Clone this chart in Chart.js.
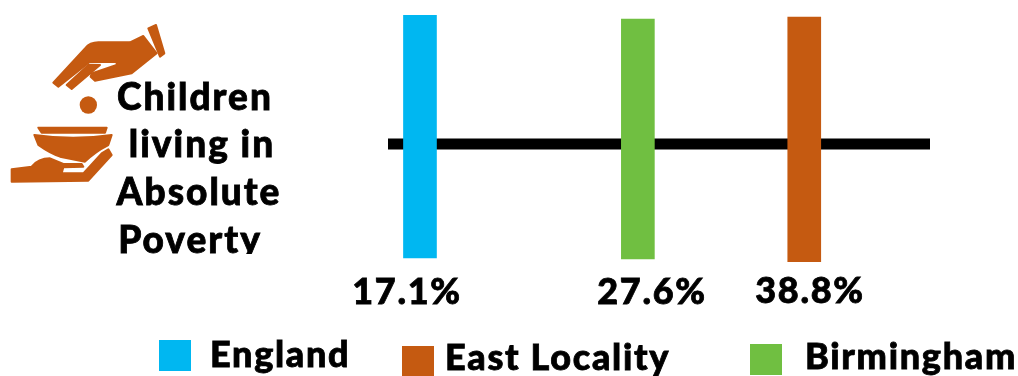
<!DOCTYPE html>
<html>
<head>
<meta charset="utf-8">
<script src="https://cdn.jsdelivr.net/npm/chart.js@4"></script>
<style>
  html, body { margin: 0; padding: 0; background: #fff; overflow: hidden; }
  #wrap { position: relative; width: 1018px; height: 376px; }
</style>
</head>
<body>
<div id="wrap"><canvas id="povertyChart"></canvas></div>
<script>
const categories = ['England', 'East Locality', 'Birmingham']
const percents = [17.1, 38.8, 27.6]
// where each bar sits along the black line (0-100), the picture does not space them to scale
const linePlaces = [5.9, 76.8, 46.1]
const barTops = [129, 127, 125]
const barBottoms = [-114, -118, -115]
const titleLines = ['Children', 'living in', 'Absolute', 'Poverty']

const colors = ['#00B7F1', '#C55A11', '#70BF41']
const textFont = '900 36px Lato, "Open Sans", sans-serif'
const titleFont = '900 37px Lato, "Open Sans", sans-serif'

// bits of text placed by hand, same as the original slide
const labelSpots = [[407, 304], [810, 303], [652, 304]]
const legendSpots = [[159, 340, 210, 367], [402, 346, 445, 370], [750, 344, 805, 369]]
const titleSpots = [[195, 110], [202, 157], [199, 205], [190, 253]]

function drawIcon(ctx) {
  ctx.save()
  ctx.fillStyle = colors[1]
  ctx.strokeStyle = colors[1]
  ctx.lineWidth = 6
  ctx.lineJoin = 'round'
  ctx.translate(0, 10)
  ctx.scale(1 / 3, 1 / 3)
  const cuff = 'M445 55 L468 45 L493 130 L480 140 Z'
  const hand = 'M160 218 L255 115 Q270 97 295 97 L390 97 L430 78 L470 130 L395 190 L285 212 L272 200 L275 190 L350 165 L350 155 L268 157 L175 230 Z'
  const finger = 'M200 225 L265 165 L300 165 L215 237 Z'
  const rim = 'M115 353 L320 353 L315 368 L125 368 Z'
  const bowl = 'M103 375 Q220 392 335 375 L325 405 Q285 425 255 455 L180 440 Q150 430 115 405 Z'
  const lowHand = 'M35 478 L95 470 Q115 445 150 445 L190 462 L245 462 L250 470 L190 472 L185 490 L250 490 L305 430 L325 418 L335 435 L265 512 L35 515 Z'
  ;[cuff, hand, finger, rim, bowl, lowHand].forEach(p => {
    const shape = new Path2D(p)
    ctx.fill(shape)
    ctx.stroke(shape)
  })
  ctx.beginPath()
  ctx.arc(265, 285, 26, 0, Math.PI * 2)
  ctx.fill()
  ctx.restore()
}

// fill plus a thin stroke, the original lettering is heavier than Lato bold
function heavyText(ctx, t, x, y) {
  ctx.fillText(t, x, y)
  ctx.strokeText(t, x, y)
}

const slideText = {
  id: 'slideText',
  afterDraw(chart) {
    const ctx = chart.ctx
    drawIcon(ctx)
    ctx.save()
    ctx.fillStyle = '#000'
    ctx.strokeStyle = '#000'
    ctx.lineWidth = 0.8
    ctx.textBaseline = 'alphabetic'

    // title, last line is cut off at the bottom in the original
    ctx.font = titleFont
    ctx.letterSpacing = '2px'
    ctx.textAlign = 'center'
    ctx.save()
    ctx.beginPath()
    ctx.rect(100, 70, 200, 184)
    ctx.clip()
    titleLines.forEach((t, i) => heavyText(ctx, t, titleSpots[i][0], titleSpots[i][1]))
    ctx.restore()

    ctx.font = textFont
    ctx.letterSpacing = '1.7px'
    percents.forEach((v, i) => {
      heavyText(ctx, v.toFixed(1) + '%', labelSpots[i][0], labelSpots[i][1])
    })

    ctx.textAlign = 'left'
    categories.forEach((c, i) => {
      const s = legendSpots[i]
      ctx.fillStyle = colors[i]
      ctx.fillRect(s[0], s[1], 32, 31)
      ctx.fillStyle = '#000'
      heavyText(ctx, c, s[2], s[3])
    })
    ctx.restore()
  }
}

const ctx = document.getElementById('povertyChart')

const povertyChart = new Chart(ctx, {
  type: 'bar',
  data: {
    datasets: [
      {
        label: 'Children living in Absolute Poverty',
        data: categories.map((c, i) => ({ x: linePlaces[i], y: [barBottoms[i], barTops[i]] })),
        backgroundColor: colors,
        barThickness: 33,
        order: 1
      },
      {
        type: 'line',
        label: 'line',
        data: [{ x: 0, y: 0 }, { x: 100, y: 0 }],
        borderColor: '#000',
        borderWidth: 11,
        pointRadius: 0,
        order: 2
      }
    ]
  },
  options: {
    responsive: true,
    maintainAspectRatio: false,
    animation: false,
    layout: { padding: { left: 388, right: 88, top: 15, bottom: 114 } },
    plugins: {
      legend: { display: false },
      title: { display: false },
      tooltip: { enabled: false }
    },
    scales: {
      x: { type: 'linear', min: 0, max: 100, offset: false, display: false },
      y: { min: -118, max: 129, display: false }
    }
  },
  plugins: [slideText]
})
</script>
</body>
</html>
